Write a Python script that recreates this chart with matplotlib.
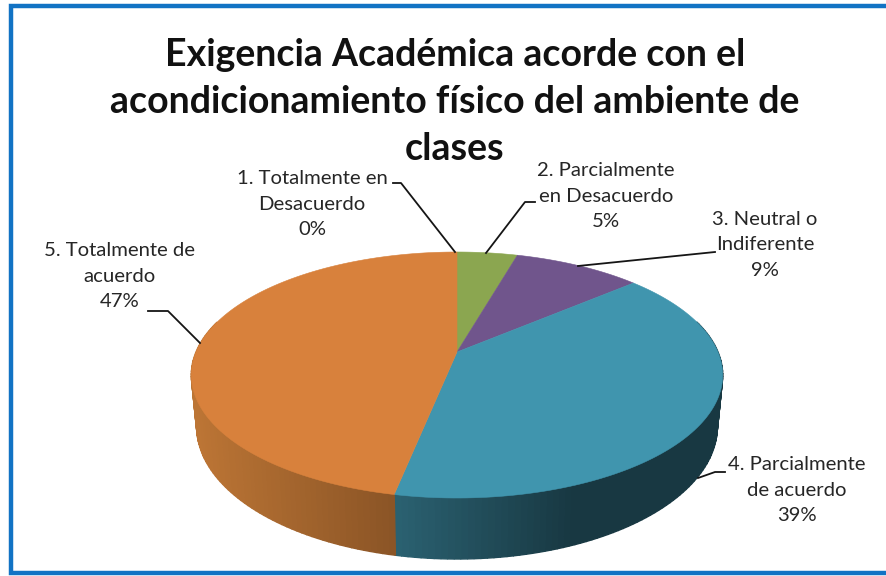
import numpy as np
import matplotlib
matplotlib.use('Agg')
import matplotlib.pyplot as plt
from matplotlib.colors import to_rgb
from matplotlib.patches import Polygon, Rectangle

plt.rcParams['font.family'] = ['Lato', 'DejaVu Sans']

title = 'Exigencia Académica acorde con el\nacondicionamiento físico del ambiente de\nclases'
labels = ['1. Totalmente en\nDesacuerdo', '2. Parcialmente\nen Desacuerdo', '3. Neutral o\nIndiferente',
          '4. Parcialmente\nde acuerdo', '5. Totalmente de\nacuerdo']
percent_text = [0, 5, 9, 39, 47]
# slice sizes, a bit finer than the rounded labels
values = [0, 4.4, 9.3, 39.45, 46.85]
colors = ['#4F81BD', '#8BA650', '#70558C', '#4095AE', '#D8813C']
side_left = ['#4F81BD', '#6E8540', '#59436F', '#2B6272', '#BC7535']
side_right = ['#4F81BD', '#6E8540', '#59436F', '#183842', '#8B5526']

# ellipse in picture pixels, with a perspective term so the apex sits above the centre
cx, cy = 457, 375
R = 261
ry = 123
k = 0.187
y_off = 23
depth = 49.6
shrink = 0.98


def top_point(t):
    u, v = np.sin(t), np.cos(t)
    w = 1 + k * v
    return cx + R * u / w, cy - (ry * v + y_off) / w


def bottom_point(t):
    u, v = np.sin(t), np.cos(t)
    w = 1 + k * v
    x = cx + shrink * R * u / w
    y = cy - (ry * v + y_off) / w + depth / w
    return x, y


fig = plt.figure(figsize=(8.87, 5.76), dpi=100)
ax = fig.add_axes([0, 0, 1, 1])
ax.set_xlim(0, 887)
ax.set_ylim(576, 0)
ax.axis('off')

ax.add_patch(Rectangle((11, 6), 900, 567, fc='white', ec='#1273C4', lw=3.2, zorder=1))

edges = np.cumsum([0] + values) / sum(values) * 2 * np.pi

# side wall, cut in thin strips for the shading
for i in range(len(values)):
    if values[i] == 0:
        continue
    n = max(int(values[i] * 3), 2)
    ts = np.linspace(edges[i], edges[i + 1], n + 1)
    xs = np.array([top_point(t)[0] for t in ts])
    for j in range(n):
        if np.cos(ts[j]) > 0.25 and np.cos(ts[j + 1]) > 0.25:
            continue
        # teal goes dark left to right, orange goes dark towards the middle
        if i == 4:
            f = np.clip((xs[j] - 195) / 200, 0, 1)
        else:
            f = np.clip((xs[j] - 395) / 180, 0, 1)
        c0 = np.array(to_rgb(side_left[i]))
        c1 = np.array(to_rgb(side_right[i]))
        col = c0 + (c1 - c0) * f
        pts = [top_point(ts[j]), top_point(ts[j + 1]), bottom_point(ts[j + 1]), bottom_point(ts[j])]
        ax.add_patch(Polygon(pts, fc=col, ec=col, lw=1.0, zorder=2))

# top face
apex = (cx, cy - y_off)
for i in range(len(values)):
    if values[i] == 0:
        continue
    ts = np.linspace(edges[i], edges[i + 1], 120)
    pts = [apex] + [top_point(t) for t in ts]
    ax.add_patch(Polygon(pts, fc=colors[i], ec=colors[i], lw=0.4, zorder=3))

ax.text(455, 102, title, ha='center', va='center', fontsize=27, fontweight='bold',
        color='#111111', linespacing=1.45, zorder=5)

# label centres and leader lines
label_pos = [(312, 204), (606, 196), (765, 245), (797, 490), (120, 276)]
leaders = [
    [(393, 183), (401, 183), (455, 252)],
    [(535, 202), (525, 202), (486, 253)],
    [(715, 252), (578, 266)],
    [(725, 472), (715, 472), (698, 478)],
    [(148, 311), (168, 311), (200, 343)],
]
for lab, val, pos, line in zip(labels, percent_text, label_pos, leaders):
    ax.text(pos[0], pos[1], f'{lab}\n{val}%', ha='center', va='center', fontsize=14.6,
            color='#262626', linespacing=1.62, zorder=5)
    ax.plot([p[0] for p in line], [p[1] for p in line], color='#151515', lw=1.3, zorder=4)

fig.savefig('out.png', dpi=100)
